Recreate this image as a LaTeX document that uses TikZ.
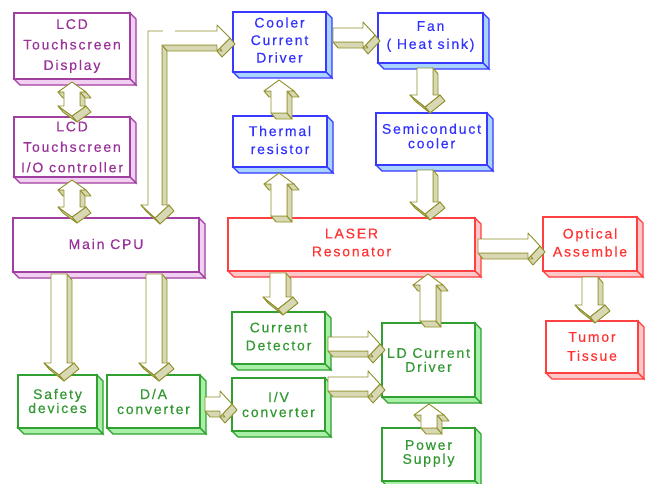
\documentclass[tikz,border=0pt]{standalone}
\usepackage{fontspec}
\setmainfont{Liberation Sans}[LetterSpace=13,FakeBold=0.4]
\definecolor{pline}{HTML}{A040A0}
\definecolor{ptext}{HTML}{993399}
\definecolor{pside}{HTML}{F2D0F2}
\definecolor{bline}{HTML}{3A3AFF}
\definecolor{btext}{HTML}{3333FF}
\definecolor{bside}{HTML}{A8D4FF}
\definecolor{rline}{HTML}{FF4040}
\definecolor{rtext}{HTML}{FF3333}
\definecolor{rside}{HTML}{FFC8C8}
\definecolor{gline}{HTML}{30A030}
\definecolor{gtext}{HTML}{339933}
\definecolor{gside}{HTML}{A8F0A8}
\definecolor{aline}{HTML}{8F8F2A}
\definecolor{aside}{HTML}{D8D8B4}
\newcommand\DX{6}
\newcommand\DY{6}
% #1 front fill, #2 side fill, #3 line colour, #4/#5 first point, #6 remaining points (screen coords, visually clockwise)
\newcommand\solid[6]{%
  \foreach \x/\y [count=\i, remember=\x as \px, remember=\y as \py] in {#4/#5,#6,#4/#5}{%
    \ifnum\i>1
      \pgfmathtruncatemacro\vis{(\DX*((\y)-(\py)) - \DY*((\x)-(\px))) > 0 ? 1 : 0}%
      \ifnum\vis=1
        \filldraw[fill=#2,draw=#3] (\px,\py) -- (\x,\y) -- ++(\DX,\DY) -- (\px+\DX,\py+\DY) -- cycle;
      \fi
    \fi
  }%
  \filldraw[fill=#1,draw=#3] (#4,#5) \foreach \x/\y in {#6}{ -- (\x,\y)} -- cycle;
}
\newcommand\bx[5]{\solid{white}{#1side}{#1line}{#2}{#3}{#4/#3,#4/#5,#2/#5}}
% right arrow: x0, x1 (tip), yc
\newcommand\rarr[3]{\solid{white}{aside}{aline}{#1}{#3-7}{#2-12/#3-7,#2-12/#3-13,#2/#3,#2-12/#3+13,#2-12/#3+7,#1/#3+7}}
% down arrow: xc, y0, y1 (tip)
\newcommand\darr[3]{\solid{white}{aside}{aline}{#1-8}{#2}{#1+8/#2,#1+8/#3-12,#1+15/#3-12,#1/#3,#1-15/#3-12,#1-8/#3-12}}
% up arrow: xc, y0 (tail), y1 (tip)
\newcommand\uarr[3]{\solid{white}{aside}{aline}{#1+8}{#2}{#1-8/#2,#1-8/#3+11,#1-15/#3+11,#1/#3,#1+15/#3+11,#1+8/#3+11}}
% double vertical arrow: xc, ytop, ybot
\newcommand\udarr[3]{\solid{white}{aside}{aline}{#1}{#2}{#1+14/#2+10,#1+8/#2+10,#1+8/#3-10,#1+14/#3-10,#1/#3,#1-14/#3-10,#1-8/#3-10,#1-8/#2+10,#1-14/#2+10}}
\begin{document}
\begin{tikzpicture}[x=1pt,y=-1pt,
  txt/.style={align=center,inner sep=0pt,font=\fontsize{14}{#1}\selectfont}]
\useasboundingbox[fill=white] (0,0) rectangle (645,483);
% boxes
\begin{scope}[line width=1.2pt]
\bx{p}{14}{13}{130}{79}
\bx{p}{14}{117}{130}{177}
\bx{p}{13}{218}{199}{272}
\bx{g}{18}{375}{97}{428}
\bx{g}{107}{375}{200}{428}
\bx{g}{232}{312}{325}{364}
\bx{g}{232}{378}{325}{431}
\bx{r}{228}{218}{475}{271}
\bx{r}{543}{217}{637}{271}
\bx{r}{546}{321}{638}{373}
\bx{g}{382}{323}{475}{397}
\bx{g}{382}{428}{475}{481}
\bx{b}{233}{12}{326}{72}
\bx{b}{378}{13}{483}{63}
\bx{b}{233}{116}{327}{167}
\bx{b}{376}{113}{487}{165}
\end{scope}
% texts
\node[txt=20.5,text=ptext] (lcd1) at (72,46) {LCD\\Touchscreen\\Display};
\node[txt=20.5,text=ptext] (lcd2) at (72,147) {LCD\\Touchscreen\\I/O controller};
\node[txt=18,text=ptext] (cpu) at (106,244) {Main CPU};
\node[txt=14,text=gtext] (safety) at (57.5,401) {Safety\\devices};
\node[txt=15,text=gtext] (da) at (153.5,401.5) {D/A\\converter};
\node[txt=18,text=gtext] (curdet) at (278.5,336.5) {Current\\Detector};
\node[txt=15,text=gtext] (iv) at (278.5,404.5) {I/V\\converter};
\node[txt=18,text=rtext] (laser) at (351.5,242.5) {LASER\\Resonator};
\node[txt=18,text=rtext] (optical) at (590,242.5) {Optical\\Assemble};
\node[txt=19,text=rtext] (tumor) at (592,346.5) {Tumor\\Tissue};
\node[txt=14,text=gtext] (lddrv) at (428.5,360) {LD Current\\Driver};
\node[txt=14,text=gtext] (power) at (428.5,453.5) {Power\\Supply};
\node[txt=17.5,text=btext] (cooldrv) at (279.5,40) {Cooler\\Current\\Driver};
\node[txt=18,text=btext] (fan) at (430.5,36.5) {Fan\\( Heat sink)};
\node[txt=18,text=btext] (thermal) at (280,140) {Thermal\\resistor};
\node[txt=14.5,text=btext] (semi) at (431.5,136) {Semiconduct\\cooler};
% arrows
\renewcommand\DX{5}\renewcommand\DY{6}
\begin{scope}[line width=0.9pt,line join=round]
\udarr{72}{82}{116}
\udarr{72}{180}{217}
\solid{white}{aside}{aline}{148}{31}{217/31,217/25,230/38,217/51,217/45,162/45,162/205,169/205,155/218,141/205,148/205}
\draw[white,line width=2pt] (163,31) -- (175,31);
\rarr{333}{375}{35}
\uarr{279}{113}{80}
\uarr{279}{216}{173}
\darr{425}{68}{107}
\darr{425}{170}{214}
\rarr{478}{540}{246}
\darr{590}{277}{317}
\darr{278}{273}{309}
\uarr{428}{321}{274}
\uarr{429}{428}{404}
\rarr{328}{380}{344}
\rarr{328}{380}{384}
\rarr{205}{232}{404}
\darr{59}{274}{375}
\darr{154}{274}{375}
\end{scope}
\end{tikzpicture}
\end{document}
